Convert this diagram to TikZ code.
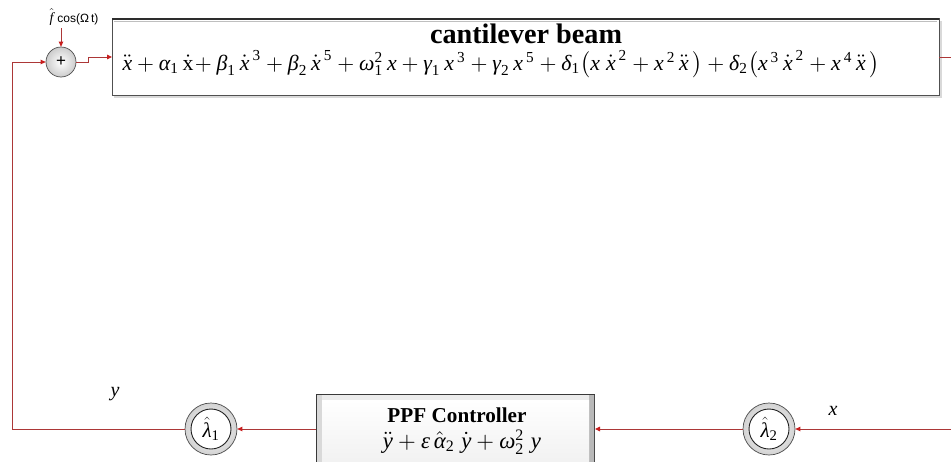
\documentclass[tikz,border=0pt]{standalone}
\usepackage{amsmath}
\usepackage[no-math]{fontspec}
\setmainfont{Liberation Serif}
\setsansfont{Liberation Sans}
\usepackage{graphicx}
\usetikzlibrary{arrows.meta,shapes.geometric}

\definecolor{wirered}{RGB}{172,55,55}
\definecolor{tipred}{RGB}{200,30,30}
\definecolor{frame}{RGB}{80,80,80}

% italic Times-style symbols for the equations
\newcommand{\vx}{\textit{x}}
\newcommand{\vy}{\textit{y}}
\newcommand{\myalpha}{\textit{α}}
\newcommand{\mybeta}{\textit{β}}
\newcommand{\myomega}{\textit{ω}}
\newcommand{\mygamma}{\textit{γ}}
\newcommand{\mydelta}{\textit{δ}}
\newcommand{\myeps}{\textit{ε}}
\newcommand{\mylambda}{\textit{λ}}
\newcommand{\sbs}[1]{_{\text{#1}}}
\newcommand{\pw}[1]{^{\,\text{#1}}}

\tikzset{
  wire/.style={draw=wirered, line width=0.9pt},
  feed/.style={wire, -{Triangle[length=5pt,width=4.5pt,color=tipred]}},
  sumnode/.style={circle, minimum size=30pt, inner sep=0pt, draw=frame, line width=0.7pt,
    inner color=white, outer color=gray!40},
  gainring/.style={circle, minimum size=52pt, inner sep=0pt, draw=gray!60!black, line width=0.7pt,
    inner color=white, outer color=gray!35},
  gaincore/.style={circle, minimum size=40pt, inner sep=0pt, draw=gray!25!black, line width=0.9pt, fill=white},
  plain/.style={inner sep=0pt, outer sep=0pt},
}

\begin{document}
\begin{tikzpicture}[x=1pt, y=-1pt]
\clip (0,0) rectangle (951,461);
\fill[white] (0,0) rectangle (951,461);

% ---- cantilever beam block ----
\fill[gray!30] (114,21) rectangle (942,98);
\node[plain, rectangle, minimum width=827pt, minimum height=77pt, fill=white,
      draw=frame, line width=1pt] (beam) at (525.5,56.5) {};
\draw[gray!50, line width=0.6pt] (114,21.5) -- (937,21.5);
\draw[gray!35!black, line width=1.8pt] (112,19) -- (939,19);
\node[plain] (beamtitle) at (526,34)
  {\resizebox{192pt}{!}{\bfseries cantilever beam}};
\node[plain] (beameq) at (501,64)
  {\resizebox{757pt}{!}{$\ddot{\vx} + \myalpha\sbs1\,\dot{\text{x}}\!+ \mybeta\sbs1\,\dot{\vx}\pw3 + \mybeta\sbs2\,\dot{\vx}\pw5 + \myomega\sbs1^{\text{2}}\,\vx + \mygamma\sbs1\,\vx\pw3 + \mygamma\sbs2\,\vx\pw5 + \mydelta\sbs1\bigl(\vx\;\dot{\vx}\pw2 + \vx\pw2\,\ddot{\vx}\,\bigr) + \mydelta\sbs2\bigl(\vx\pw3\,\dot{\vx}\pw2 + \vx\pw4\,\ddot{\vx}\,\bigr)$}};

% ---- summing junction and forcing input ----
\node[sumnode] (sum) at (61,62) {\sffamily\fontsize{17}{17}\selectfont +};
\node[plain] (force) at (74,17)
  {\fontsize{14}{14}\selectfont$\hat{\textit{f}}$\;{\sffamily\fontsize{12}{12}\selectfont cos(Ω\,t)}};
\coordinate (fin) at (61,28);
\draw[feed] (fin) -- (sum.north);

\coordinate (step) at (88,57);
\draw[feed] (sum.east) -- (sum.east -| step) -- (step) -- (step -| beam.west);

\coordinate (outR) at (951,57);
\draw[wire] (beam.east |- outR) -- (outR);

% ---- PPF controller block ----
\fill[gray!45!black] (316,394) rectangle (595,470);
\fill[left color=gray!20, right color=gray!45] (317,395) rectangle (594,470);
\fill[gray!15] (317,395) rectangle (594,400);
\fill[gray!30] (317,395) rectangle (322,470);
\fill[gray!55] (589,395) rectangle (594,470);
\node[plain, rectangle, minimum width=279pt, minimum height=76pt] (ppf) at (455.5,432) {};
\fill[top color=white, bottom color=gray!12] (322,400) rectangle (589,470);
\node[plain] (ppftitle) at (457,415)
  {\resizebox{139pt}{!}{\bfseries PPF Controller}};
\node[plain] (ppfeq) at (462,442)
  {\resizebox{158pt}{!}{$\ddot{\vy} + \myeps\,\hat{\myalpha}\sbs2\;\dot{\vy} + \myomega\sbs2^{\text{2}}\;\vy$}};

% ---- gain blocks ----
\node[gainring] (lam1) at (211,429) {};
\node[gaincore] (lam1c) at (lam1) {\fontsize{21}{21}\selectfont$\hat{\mylambda}\sbs1$};
\node[gainring] (lam2) at (769,429) {};
\node[gaincore] (lam2c) at (lam2) {\fontsize{21}{21}\selectfont$\hat{\mylambda}\sbs2$};

% ---- feedback loop ----
\coordinate (inR) at (951,429);
\draw[feed] (inR) -- (lam2.east);
\draw[feed] (lam2.west) -- (ppf.east |- lam2);
\draw[feed] (ppf.west |- lam1) -- (lam1.east);
\coordinate (corner) at (12,429);
\draw[feed] (lam1.west) -- (corner) |- (sum.west);

% ---- signal labels ----
\node[plain] (ylab) at (115,394) {\fontsize{20}{20}\selectfont\vy};
\node[plain] (xlab) at (833,411) {\fontsize{20}{20}\selectfont\vx};
\end{tikzpicture}
\end{document}
